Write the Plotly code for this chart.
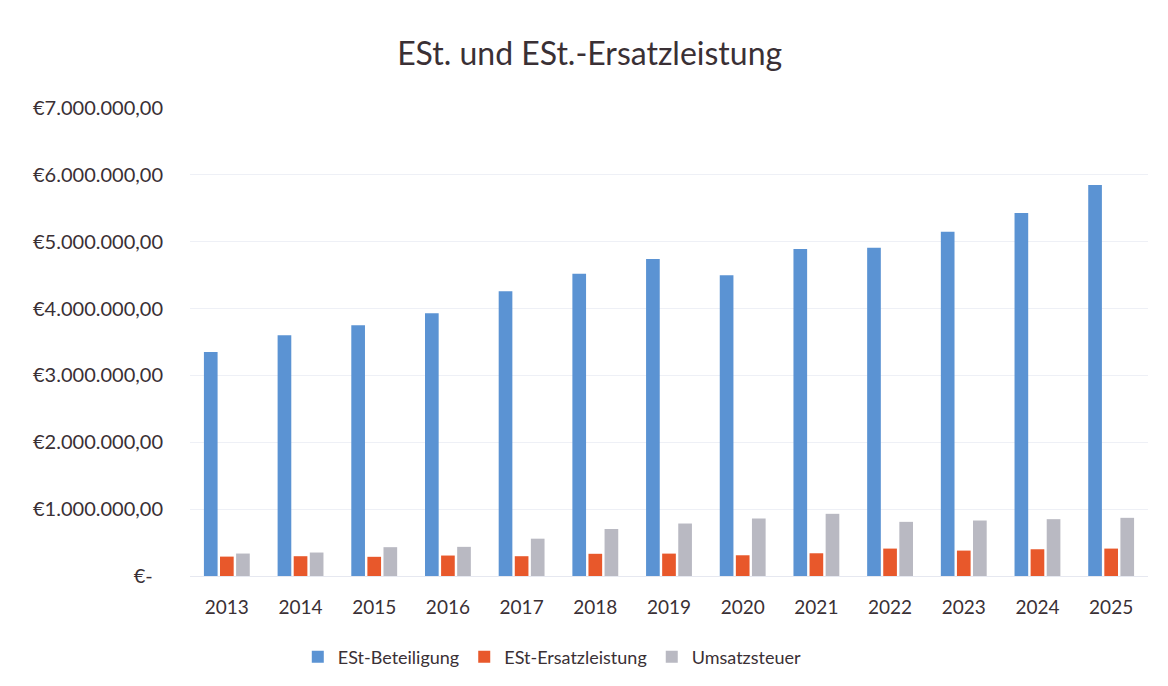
import plotly.graph_objects as go

years = ["2013", "2014", "2015", "2016", "2017", "2018", "2019",
         "2020", "2021", "2022", "2023", "2024", "2025"]
est_beteiligung = [3350000, 3600000, 3750000, 3930000, 4260000, 4520000, 4740000,
                   4500000, 4890000, 4910000, 5150000, 5430000, 5850000]
est_ersatz = [290000, 296000, 287000, 306000, 296000, 332000, 335000,
              310000, 340000, 410000, 380000, 400000, 410000]
umsatzsteuer = [336000, 351000, 431000, 436000, 558000, 703000, 785000,
                860000, 930000, 810000, 830000, 850000, 870000]
series_names = ["ESt-Beteiligung", "ESt-Ersatzleistung", "Umsatzsteuer"]
tick_vals = [0, 1000000, 2000000, 3000000, 4000000, 5000000, 6000000, 7000000]
tick_text = ["€-\u00a0\u00a0", "€1.000.000,00", "€2.000.000,00", "€3.000.000,00",
             "€4.000.000,00", "€5.000.000,00", "€6.000.000,00", "€7.000.000,00"]
title_text = "ESt. und ESt.-Ersatzleistung"

colors = ["#5b93d3", "#e8582b", "#b9b9c2"]
FONT = "Lato, 'Open Sans', sans-serif"
TXT = "#3a3035"

fig = go.Figure()
for name, vals, col in zip(series_names, [est_beteiligung, est_ersatz, umsatzsteuer], colors):
    fig.add_trace(go.Bar(x=years, y=vals, name=name, marker=dict(color=col, line=dict(width=0))))

fig.update_layout(
    width=1168, height=686,
    paper_bgcolor="white", plot_bgcolor="white",
    margin=dict(l=182, r=28, t=100, b=118),
    barmode="group", bargap=0.345, bargroupgap=0.15,
    font=dict(family=FONT, color=TXT, size=18),
    title=dict(text=title_text, x=0.498, xref="container", xanchor="center",
               y=1 - 46 / 686, yref="container", yanchor="middle",
               font=dict(family=FONT, size=32, color=TXT)),
    showlegend=True,
    legend=dict(orientation="h", xref="container", x=0.466, xanchor="center",
                yref="container", y=1 - 649 / 686, yanchor="middle",
                font=dict(family=FONT, size=18, color=TXT), itemwidth=30,
                traceorder="normal"),
    xaxis=dict(showgrid=False, showline=True, linecolor="#e6e8f0", linewidth=1,
               ticks="", tickfont=dict(family=FONT, size=19, color=TXT),
               ticklabelstandoff=14),
    yaxis=dict(range=[0, 7000000], tickvals=tick_vals, ticktext=tick_text,
               showgrid=True, gridcolor="#eef0f6", gridwidth=1, zeroline=False,
               showline=False, ticks="",
               tickfont=dict(family=FONT, size=20, color=TXT),
               ticklabelstandoff=26),
)

fig.write_html("out.html")
